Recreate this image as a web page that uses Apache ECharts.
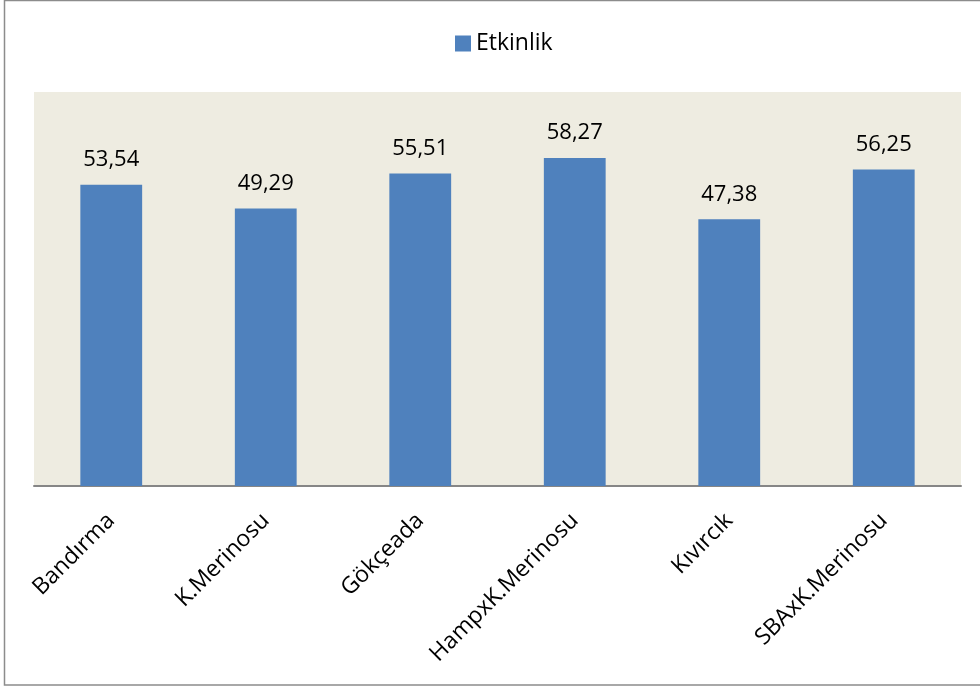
<!DOCTYPE html>
<html><head><meta charset="utf-8">
<script src="https://cdn.jsdelivr.net/npm/echarts@6/dist/echarts.min.js"></script>
<style>html,body{margin:0;padding:0;background:#fff}#c{width:980px;height:686px}</style>
</head><body><div id="c"></div>
<script>
const categories = ['Bandırma', 'K.Merinosu', 'Gökçeada', 'HampxK.Merinosu', 'Kıvırcık', 'SBAxK.Merinosu'];
const etkinlik = [53.54, 49.29, 55.51, 58.27, 47.38, 56.25];
const seriesName = 'Etkinlik';

const chart = echarts.init(document.getElementById('c'));
const FONT = '"Open Sans", "Noto Sans", sans-serif';
chart.setOption({
  animation: false,
  textStyle: { fontFamily: FONT },
  graphic: [{
    type: 'rect', silent: true, z: -10,
    shape: { x: 4.5, y: 0.5, width: 1000, height: 684.5 },
    style: { fill: 'none', stroke: '#8c8c8c', lineWidth: 1.5 }
  }],
  legend: {
    data: [seriesName], top: 27, left: 450,
    itemWidth: 16, itemHeight: 16, itemGap: 6,
    icon: 'rect',
    textStyle: { fontSize: 23, color: '#000', fontFamily: FONT }
  },
  grid: { left: 34, right: 19, top: 92, bottom: 200, backgroundColor: '#EEECE1', show: true, borderWidth: 0 },
  xAxis: {
    type: 'category', data: categories,
    axisLine: { lineStyle: { color: '#868686', width: 2 } },
    axisTick: { show: false },
    axisLabel: { rotate: 45, fontSize: 23, color: '#000', margin: 31, interval: 0, fontFamily: FONT }
  },
  yAxis: {
    type: 'value', min: 0, max: 70, interval: 10,
    axisLine: { show: false }, axisTick: { show: false }, axisLabel: { show: false },
    splitLine: { show: false }
  },
  series: [{
    name: seriesName, type: 'bar', data: etkinlik, barWidth: '40%',
    itemStyle: { color: '#4F81BD' },
    label: {
      show: true, position: 'top', distance: 14, fontSize: 22, color: '#000', fontFamily: FONT,
      formatter: p => p.value.toFixed(2).replace('.', ',')
    }
  }]
});
</script></body></html>
